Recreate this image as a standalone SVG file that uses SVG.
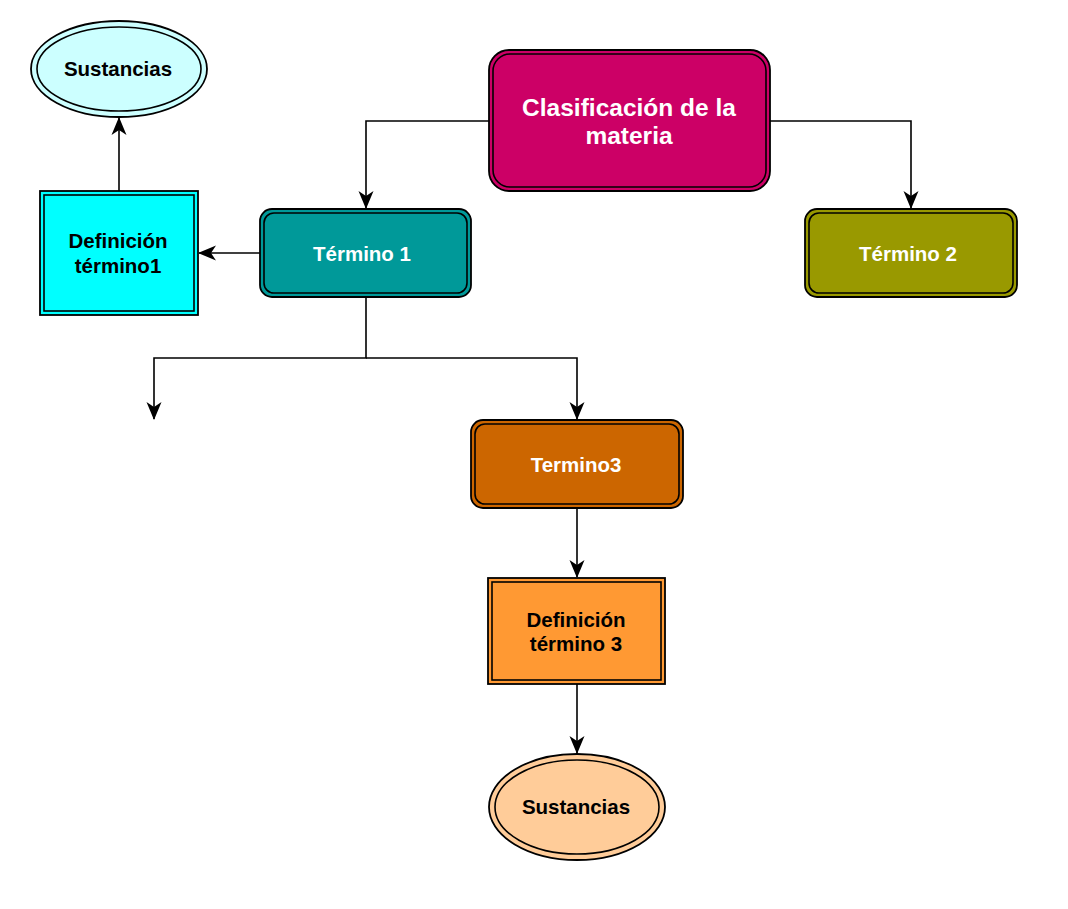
<svg xmlns="http://www.w3.org/2000/svg" width="1068" height="909" viewBox="0 0 1068 909">
<defs>
<marker id="arr" viewBox="0 0 18 18" refX="17" refY="9" markerWidth="18" markerHeight="18" markerUnits="userSpaceOnUse" orient="auto">
<path d="M0,1.5 L18,9 L0,16.5 L5,9 Z" fill="#000"/>
</marker>
<style>
.s{stroke:#000;stroke-width:1.8}
.in{fill:none;stroke:#000;stroke-width:1.6}
.c{fill:none;stroke:#000;stroke-width:1.6}
.t{font-family:"Liberation Sans",Arial,sans-serif;font-weight:bold;font-size:20.5px;text-anchor:middle}
.w{fill:#fff}
.k{fill:#000}
</style>
</defs>
<rect width="1068" height="909" fill="#fff"/>
<g id="connectors">
<path class="c" d="M489,121 H366 V208" marker-end="url(#arr)"/>
<path class="c" d="M770,121 H911 V208" marker-end="url(#arr)"/>
<path class="c" d="M260,253 H199" marker-end="url(#arr)"/>
<path class="c" d="M119,191 V118" marker-end="url(#arr)"/>
<path class="c" d="M366,297 V358 H154 V419" marker-end="url(#arr)"/>
<path class="c" d="M366,358 H577 V419" marker-end="url(#arr)"/>
<path class="c" d="M577,508 V577" marker-end="url(#arr)"/>
<path class="c" d="M577,684 V753" marker-end="url(#arr)"/>
</g>
<g id="clasificacion">
<rect class="s" x="489" y="50" width="281" height="141" rx="20" fill="#CC0066"/>
<rect class="in" x="493" y="54" width="273" height="133" rx="17"/>
<text class="t w" x="629" y="116" style="font-size:24.5px">Clasificación de la</text>
<text class="t w" x="629" y="144" style="font-size:24.5px">materia</text>
</g>
<g id="termino1">
<rect class="s" x="260" y="209" width="211" height="88" rx="12" fill="#009999"/>
<rect class="in" x="264" y="213" width="203" height="80" rx="10"/>
<text class="t w" x="362" y="261">Término 1</text>
</g>
<g id="termino2">
<rect class="s" x="805" y="209" width="212" height="88" rx="12" fill="#999900"/>
<rect class="in" x="809" y="213" width="204" height="80" rx="10"/>
<text class="t w" x="908" y="261">Término 2</text>
</g>
<g id="termino3">
<rect class="s" x="471" y="420" width="212" height="88" rx="12" fill="#CC6600"/>
<rect class="in" x="475" y="424" width="204" height="80" rx="10"/>
<text class="t w" x="576" y="472">Termino3</text>
</g>
<g id="definicion1">
<rect class="s" x="40" y="191" width="158" height="124" fill="#00FFFF"/>
<rect class="in" x="44" y="195" width="150" height="116"/>
<text class="t k" x="118" y="248">Definición</text>
<text class="t k" x="118" y="273">término1</text>
</g>
<g id="definicion3">
<rect class="s" x="488" y="578" width="177" height="106" fill="#FF9933"/>
<rect class="in" x="492" y="582" width="169" height="98"/>
<text class="t k" x="576" y="627">Definición</text>
<text class="t k" x="576" y="651">término 3</text>
</g>
<g id="sustancias1">
<ellipse class="s" cx="119" cy="69" rx="88" ry="48" fill="#CCFFFF"/>
<ellipse class="in" cx="119" cy="69" rx="82" ry="42"/>
<text class="t k" x="118" y="76">Sustancias</text>
</g>
<g id="sustancias2">
<ellipse class="s" cx="577" cy="807" rx="88" ry="53" fill="#FFCC99"/>
<ellipse class="in" cx="577" cy="807" rx="82" ry="47"/>
<text class="t k" x="576" y="814">Sustancias</text>
</g>
</svg>
